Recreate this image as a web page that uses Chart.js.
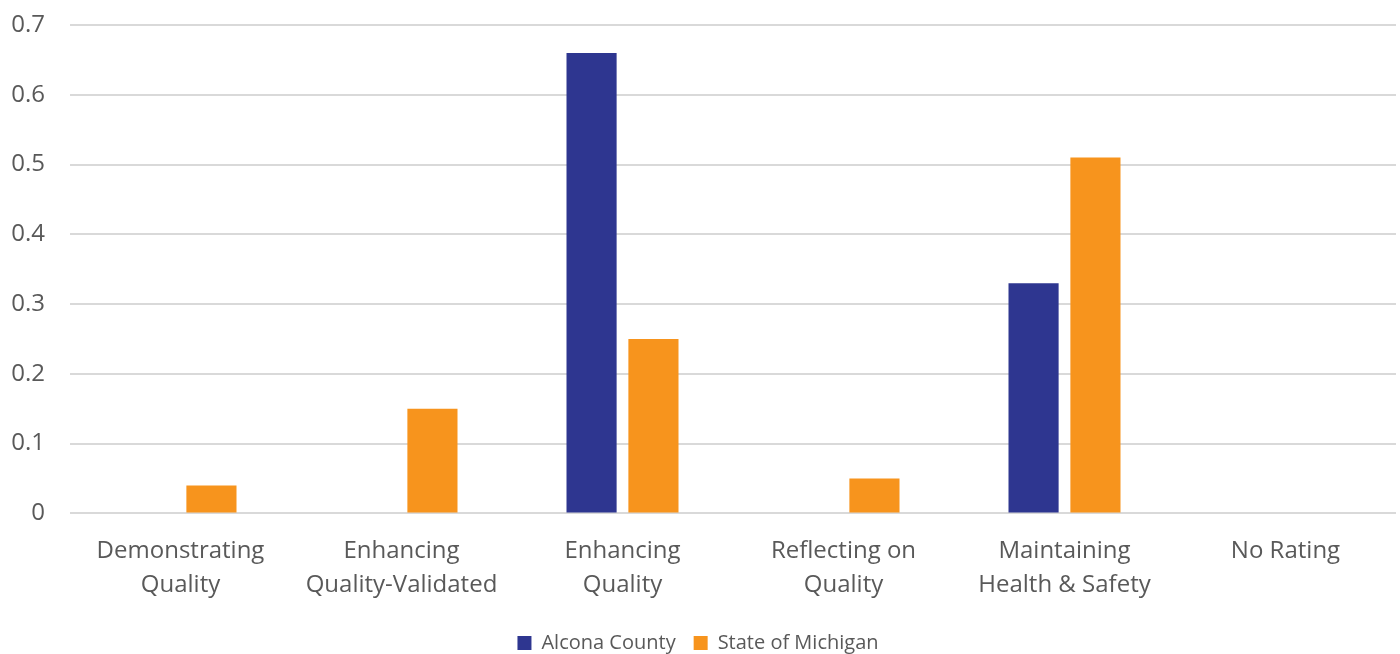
<!DOCTYPE html>
<html>
<head>
<meta charset="utf-8">
<script src="https://cdn.jsdelivr.net/npm/chart.js@4.4.1/dist/chart.umd.min.js"></script>
<style>
  html, body { margin: 0; padding: 0; background: #ffffff; }
  #wrap { width: 1400px; height: 654px; position: relative; }
</style>
</head>
<body>
<div id="wrap"><canvas id="myChart"></canvas></div>
<script>
const categories = [
    ['Demonstrating', 'Quality'],
    ['Enhancing', 'Quality-Validated'],
    ['Enhancing', 'Quality'],
    ['Reflecting on', 'Quality'],
    ['Maintaining', 'Health & Safety'],
    'No Rating'
];
const alconaValues = [0, 0, 0.66, 0, 0.33, 0];
const michiganValues = [0.04, 0.15, 0.25, 0.05, 0.51, 0];
const yTicks = [0, 0.1, 0.2, 0.3, 0.4, 0.5, 0.6, 0.7];

const data = {
    labels: categories,
    datasets: [{
        label: 'Alcona County',
        data: alconaValues,
        backgroundColor: '#2E3690'
    }, {
        label: 'State of Michigan',
        data: michiganValues,
        backgroundColor: '#F7941D'
    }]
};

const config = {
    type: 'bar',
    data: data,
    options: {
        responsive: true,
        maintainAspectRatio: false,
        animation: false,
        categoryPercentage: 0.56,
        barPercentage: 0.81,
        layout: { padding: { top: 25, right: 4, left: 0, bottom: -9 } },
        plugins: {
            legend: {
                position: 'bottom',
                labels: {
                    boxWidth: 14,
                    boxHeight: 14,
                    padding: 18,
                    color: '#595959',
                    font: { family: 'Open Sans', size: 20 }
                }
            },
            tooltip: { enabled: false }
        },
        scales: {
            x: {
                grid: { display: false },
                border: { display: false },
                ticks: {
                    color: '#595959',
                    font: { family: 'Open Sans', size: 24, lineHeight: 1.45 },
                    maxRotation: 0,
                    padding: 12
                }
            },
            y: {
                min: 0,
                max: 0.7,
                afterBuildTicks: (axis) => {
                    axis.ticks = yTicks.map(v => ({ value: v }));
                },
                afterFit: (axis) => {
                    axis.width = 70;
                    axis.paddingTop = 0;
                    axis.paddingBottom = 0;
                },
                grid: { color: '#D9D9D9', lineWidth: 2, drawTicks: false },
                border: { display: false },
                ticks: {
                    color: '#595959',
                    font: { family: 'Open Sans', size: 24 },
                    padding: 25,
                    callback: (v) => String(Math.round(v * 10) / 10)
                }
            }
        }
    }
};

let myChart = new Chart(document.getElementById('myChart'), config);
</script>
</body>
</html>
